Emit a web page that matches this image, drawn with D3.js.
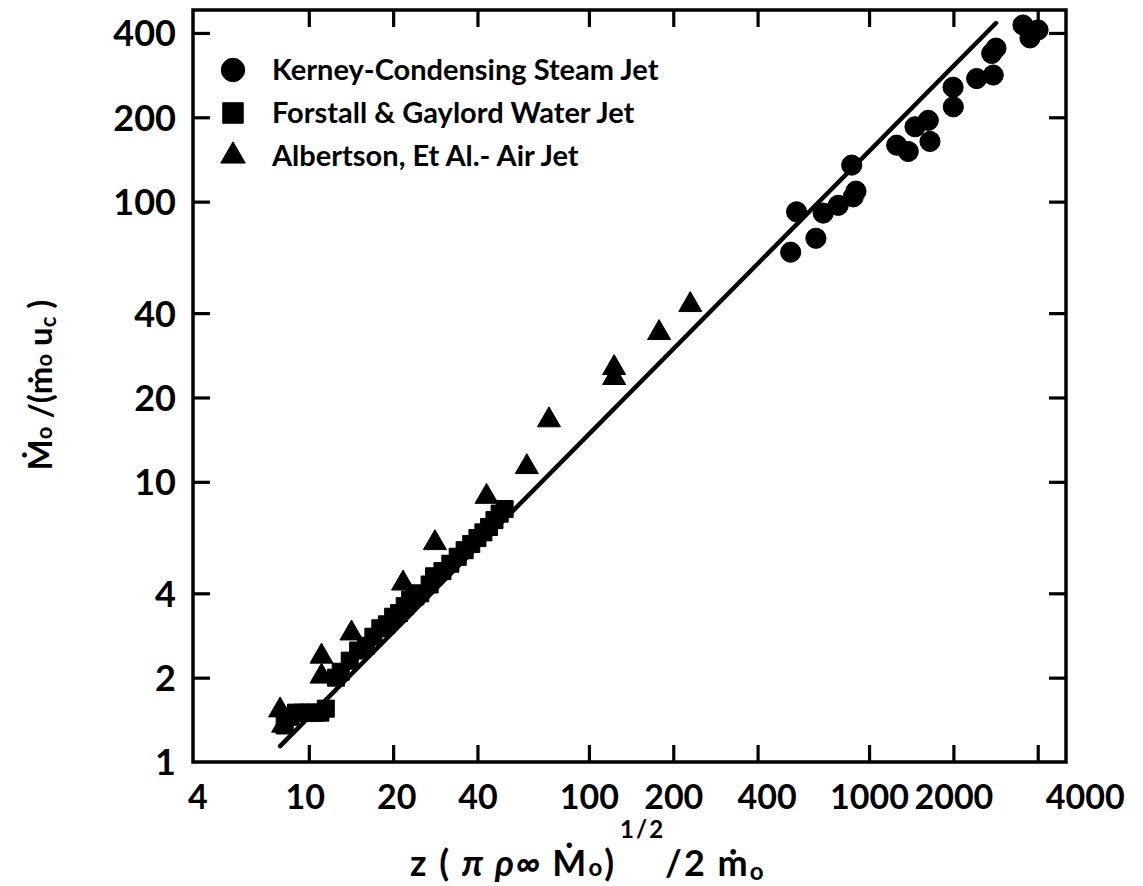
<!DOCTYPE html>
<html>
<head>
<meta charset="utf-8">
<script src="https://cdn.jsdelivr.net/npm/d3@7"></script>
<style>
  html, body { margin: 0; padding: 0; background: #fff; }
  svg { display: block; }
  text { font-family: Lato, "DejaVu Sans", sans-serif; font-weight: 700; fill: #000; }
</style>
</head>
<body>
<svg id="chart" width="1143" height="886"></svg>
<script>
// Kerney: condensing steam jet
const kerneyZ = [551, 525, 646, 686, 776, 878, 867, 898, 1255, 1380, 1650, 1459, 1627, 1999, 1995, 2422, 2775, 2740, 2838, 3543, 3754, 4010];
const kerneyM = [92, 66, 74, 91, 97, 104, 135, 109, 159, 151, 164, 185, 195, 218, 256, 275, 283, 338, 353, 427, 384, 410];

// Forstall & Gaylord: water jet
const forstallZ = [8.2, 8.6, 9.0, 9.5, 10.0, 10.5, 11.0, 11.5, 12.5, 13, 14, 15, 16, 17, 18, 19, 20, 21, 22, 23, 24, 25, 27, 28, 30, 32, 34, 36, 38, 40, 42, 44, 46, 48, 50];
const forstallM = [1.35, 1.45, 1.5, 1.5, 1.5, 1.5, 1.5, 1.55, 2.0, 2.1, 2.3, 2.5, 2.6, 2.8, 3.0, 3.1, 3.3, 3.4, 3.6, 3.8, 3.9, 4.0, 4.3, 4.6, 4.8, 5.1, 5.4, 5.7, 6.0, 6.3, 6.6, 6.9, 7.3, 7.7, 8.0];

// Albertson et al.: air jet
const albertsonZ = [7.9, 8.1, 11.1, 11.1, 14.2, 21.7, 28.2, 43.1, 60, 72, 123, 123, 178, 230];
const albertsonM = [1.53, 1.35, 2.38, 2.02, 2.88, 4.34, 6.05, 8.85, 11.3, 16.6, 25.5, 23.5, 34, 42.8];

// Correlation line
const fitZ = [7.9, 2840];
const fitM = [1.14, 434];

// Axis ticks
const xTickValues = [10, 20, 40, 100, 200, 400, 1000, 2000, 4000];
const xLabelValues = [4, 10, 20, 40, 100, 200, 400, 1000, 2000, 4000];
const yTickValues = [2, 4, 10, 20, 40, 100, 200, 400];
const yLabelValues = [1, 2, 4, 10, 20, 40, 100, 200, 400];

const legendNames = ["Kerney-Condensing Steam Jet", "Forstall & Gaylord Water Jet", "Albertson, Et Al.- Air Jet"];

// ---- layout ----
const frame = { left: 193, right: 1066, top: 10, bottom: 762 };
const xDomain = [3.86, 5047];
const yDomain = [1, 483];
// hand-lettered labels sit a little right of some ticks
const xLabelShift = { 10: -4, 20: 3, 400: 9, 4000: 47 };

const svg = d3.select("#chart");
const x = d3.scaleLog().domain(xDomain).range([frame.left, frame.right]);
const y = d3.scaleLog().domain(yDomain).range([frame.bottom, frame.top]);

const tickLen = 17;
const fmt = d => String(d);

// inner tick marks on all four sides
function ticksOnly(axis, transform) {
  const g = svg.append("g").attr("transform", transform).call(axis);
  g.select(".domain").remove();
  g.selectAll(".tick line").attr("stroke", "#000").attr("stroke-width", 3.2);
  g.selectAll(".tick text").remove();
  return g;
}
ticksOnly(d3.axisBottom(x).tickValues(xTickValues).tickSize(-tickLen), `translate(0,${frame.bottom})`);
ticksOnly(d3.axisTop(x).tickValues(xTickValues).tickSize(-tickLen), `translate(0,${frame.top})`);
ticksOnly(d3.axisLeft(y).tickValues(yTickValues).tickSize(-tickLen), `translate(${frame.left},0)`);
ticksOnly(d3.axisRight(y).tickValues(yTickValues).tickSize(-tickLen), `translate(${frame.right},0)`);

// frame
svg.append("rect")
  .attr("x", frame.left).attr("y", frame.top)
  .attr("width", frame.right - frame.left).attr("height", frame.bottom - frame.top)
  .attr("fill", "none").attr("stroke", "#000").attr("stroke-width", 3.5);

// tick labels
function styleLabels(g, size) {
  g.select(".domain").remove();
  g.selectAll(".tick text")
    .attr("font-size", size).attr("font-family", "Lato, sans-serif")
    .attr("font-weight", 700).attr("fill", "#000");
}
const xLab = svg.append("g").attr("transform", `translate(0,${frame.bottom})`)
  .call(d3.axisBottom(x).tickValues(xLabelValues).tickSize(0).tickPadding(23).tickFormat(fmt));
styleLabels(xLab, 34);
xLab.selectAll(".tick text").attr("x", d => xLabelShift[d] || 0);

const yLab = svg.append("g").attr("transform", `translate(${frame.left},0)`)
  .call(d3.axisLeft(y).tickValues(yLabelValues).tickSize(0).tickPadding(17).tickFormat(fmt));
styleLabels(yLab, 36);
yLab.selectAll(".tick text").attr("dy", "0.36em");

// correlation line
const line = d3.line().x(d => x(d[0])).y(d => y(d[1]));
svg.append("path")
  .datum(d3.zip(fitZ, fitM))
  .attr("d", line)
  .attr("fill", "none").attr("stroke", "#000").attr("stroke-width", 4.5).attr("stroke-linecap", "round");

// markers
const shapes = [
  { z: kerneyZ, m: kerneyM, sym: d3.symbolCircle, size: 320, legendSize: 430 },
  { z: forstallZ, m: forstallM, sym: d3.symbolSquare, size: 290, legendSize: 420 },
  { z: albertsonZ, m: albertsonM, sym: d3.symbolTriangle, size: 230, legendSize: 260 }
];
shapes.forEach(s => {
  svg.append("g").selectAll("path")
    .data(d3.zip(s.z, s.m))
    .join("path")
    .attr("transform", d => `translate(${x(d[0])},${y(d[1])})`)
    .attr("d", d3.symbol().type(s.sym).size(s.size))
    .attr("fill", "#000")
    .attr("stroke", "#000").attr("stroke-width", 1).attr("stroke-linejoin", "round");
});

// legend
const legend = svg.append("g").attr("transform", "translate(233,70)");
legendNames.forEach((name, i) => {
  const row = legend.append("g").attr("transform", `translate(0,${i * 43})`);
  row.append("path")
    .attr("d", d3.symbol().type(shapes[i].sym).size(shapes[i].legendSize))
    .attr("fill", "#000")
    .attr("stroke", "#000").attr("stroke-width", 1).attr("stroke-linejoin", "round");
  row.append("text")
    .attr("x", 39).attr("y", 10)
    .attr("font-size", 29)
    .text(name);
});

// x-axis title: z (π ρ∞ Ṁo)^1/2 / 2 ṁo
const xt = svg.append("text").attr("x", 410).attr("y", 876).attr("font-size", 36).attr("letter-spacing", 2);
xt.append("tspan").text("z ( ");
xt.append("tspan").attr("font-style", "italic").text("π ρ∞ ");
xt.append("tspan").text(" M\u0307");
xt.append("tspan").attr("font-size", 24).text("o");
xt.append("tspan").text(")");
xt.append("tspan").attr("font-size", 24).attr("dy", -38).attr("dx", 4).text("1/2");
xt.append("tspan").attr("dy", 38).text("/2 m\u0307");
xt.append("tspan").attr("font-size", 24).attr("dy", 4).text("o");

// y-axis title: Ṁo / (ṁo uc)
const yt = svg.append("text")
  .attr("transform", "translate(52,385) rotate(-90)")
  .attr("text-anchor", "middle")
  .attr("font-size", 33);
yt.append("tspan").text("M\u0307");
yt.append("tspan").attr("font-size", 22).text("o");
yt.append("tspan").text(" /(m\u0307");
yt.append("tspan").attr("font-size", 22).text("o");
yt.append("tspan").text(" u");
yt.append("tspan").attr("font-size", 22).attr("dy", 4).text("c");
yt.append("tspan").attr("dy", -4).text(" )");
</script>
</body>
</html>
